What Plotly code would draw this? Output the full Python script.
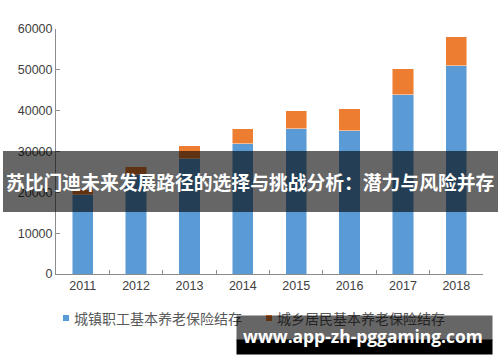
import plotly.graph_objects as go

years = ["2011", "2012", "2013", "2014", "2015", "2016", "2017", "2018"]
urban_workers = [19360, 24260, 28190, 31860, 35540, 35050, 43870, 51050]
rural_residents = [1230, 2040, 3180, 3680, 4410, 5390, 6380, 7110]
series_names = ["城镇职工基本养老保险结存", "城乡居民基本养老保险结存"]
y_ticks = [0, 10000, 20000, 30000, 40000, 50000, 60000]
banner_text = "苏比门迪未来发展路径的选择与挑战分析：潜力与风险并存"
watermark_text = "www.app-zh-pggaming.com"

BLUE = "#5B9BD5"
ORANGE = "#ED7D31"
colors = [BLUE, ORANGE]

fig = go.Figure()
fig.add_trace(go.Bar(x=years, y=urban_workers, name=series_names[0],
                     marker=dict(color=BLUE, line=dict(width=0.8, color="rgba(255,255,255,0.6)"))))
fig.add_trace(go.Bar(x=years, y=rural_residents, name=series_names[1],
                     marker=dict(color=ORANGE, line=dict(width=0.8, color="rgba(255,255,255,0.6)"))))

# pixel helpers (plot area: x 56..483, y 29..274)
L, R, T, B = 56, 483, 29, 274
def px(x):
    return (x - L) / (R - L)
def py(y):
    return (B - y) / (B - T)

fig.update_layout(
    width=500, height=362,
    margin=dict(l=L, r=500 - R, t=T, b=362 - B, autoexpand=False),
    paper_bgcolor="white", plot_bgcolor="white",
    barmode="stack", bargap=0.6,
    font=dict(family="Liberation Sans, Arial, sans-serif", size=12.5, color="#404040"),
    showlegend=False,
    xaxis=dict(type="category", range=[-0.5, 7.5], showline=True, linecolor="#8c8c8c", linewidth=1,
               ticks="inside", tickson="boundaries", ticklen=4, tickcolor="#8c8c8c",
               showgrid=False, fixedrange=True, automargin=False),
    yaxis=dict(range=[0, 60000], tickvals=y_ticks, tickformat="d", showline=True, linecolor="#8c8c8c", linewidth=1,
               ticks="inside", ticklen=4, tickcolor="#8c8c8c", showgrid=False, zeroline=False,
               fixedrange=True, automargin=False),
)

# manual legend (square markers + labels) so the watermark overlay can sit on top of it
legend_marker_x = [63, 266]
legend_text_x = [73, 276]
legend_y = 318
for i in range(2):
    fig.add_shape(type="rect", xref="paper", yref="paper",
                  x0=px(legend_marker_x[i]), x1=px(legend_marker_x[i] + 6),
                  y0=py(legend_y + 3), y1=py(legend_y - 3),
                  fillcolor=colors[i], line=dict(width=0), layer="above")
    fig.add_annotation(xref="paper", yref="paper", x=px(legend_text_x[i]), y=py(legend_y),
                       xanchor="left", yanchor="middle", text=series_names[i], showarrow=False,
                       borderpad=0, font=dict(family="Noto Sans CJK SC", size=14, color="#595959"))

# central banner
fig.add_shape(type="rect", xref="paper", yref="paper", x0=px(3), x1=px(498), y0=py(212), y1=py(151),
              fillcolor="rgba(0,0,0,0.6)", line=dict(width=0), layer="above")
fig.add_annotation(xref="paper", yref="paper", x=px(250), y=py(182), text=f"<b>{banner_text}</b>",
                   showarrow=False, xanchor="center", yanchor="middle",
                   font=dict(family="Noto Sans CJK SC", size=18.8, color="white"))

# watermark boxes
fig.add_annotation(xref="paper", yref="paper", x=px(236), y=py(315), xanchor="left", yanchor="top",
                   text=" ", showarrow=False, width=255, height=24, bgcolor="rgba(0,0,0,0.6)",
                   borderpad=0, font=dict(size=1))
fig.add_annotation(xref="paper", yref="paper", x=px(236), y=py(339), xanchor="left", yanchor="top",
                   text=" ", showarrow=False, width=255, height=14, bgcolor="black",
                   borderpad=0, font=dict(size=1))
fig.add_annotation(xref="paper", yref="paper", x=px(362.5), y=py(336), text=f"<b>{watermark_text}</b>",
                   showarrow=False, xanchor="center", yanchor="middle",
                   font=dict(family="Open Sans, Liberation Sans, sans-serif", size=17.4, color="white"))

fig.write_html("out.html", config={"displayModeBar": False, "staticPlot": True},
               post_script="document.body.style.margin='0';")
